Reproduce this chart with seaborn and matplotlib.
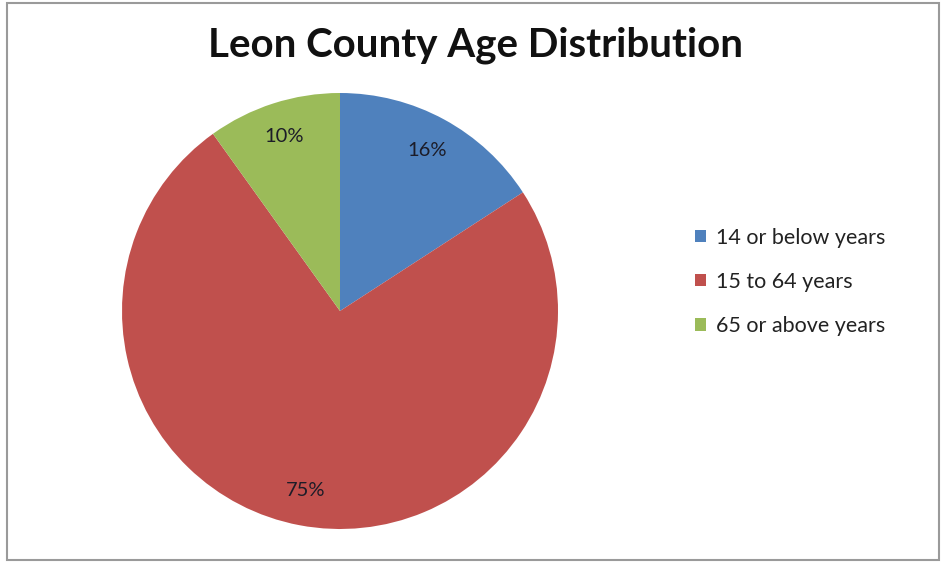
import matplotlib
matplotlib.use("Agg")
import matplotlib.pyplot as plt
import seaborn as sns
from matplotlib.patches import Rectangle

categories = ["14 or below years", "15 to 64 years", "65 or above years"]
shares = [16, 75, 10]
colors = ["#4F81BD", "#C0504D", "#9BBB59"]
title = "Leon County Age Distribution"

sns.set_theme(style="white")
plt.rcParams["font.family"] = ["Lato", "DejaVu Sans"]

W, H = 941, 562
fig = plt.figure(figsize=(W / 100, H / 100), dpi=100)
fig.patch.set_facecolor("white")

# chart frame
fig.add_artist(Rectangle((7 / W, 2 / H), (W - 9) / W, (H - 5) / H,
                         transform=fig.transFigure, fill=False,
                         edgecolor="#9a9a9a", linewidth=1.5))

cx, cy, r = 340, 311, 218
ax = fig.add_axes([(cx - r) / W, (H - cy - r) / H, 2 * r / W, 2 * r / H])
wedges, texts, autotexts = ax.pie(
    shares, colors=colors, startangle=90, counterclock=False,
    autopct=lambda p: f"{p:.0f}%", pctdistance=0.84,
    wedgeprops=dict(linewidth=0),
    textprops=dict(fontsize=14.5, color="#1c1c28"),
)
for t, v in zip(autotexts, shares):
    t.set_text(f"{v}%")
ax.set_aspect("equal")
ax.set_xlim(-1, 1)
ax.set_ylim(-1, 1)
ax.axis("off")

fig.text(475 / W, 1 - 57 / H, title, ha="center", va="baseline",
         fontsize=29, fontweight="bold", color="#111111")

leg = fig.legend(wedges, categories, loc="center left",
                 bbox_to_anchor=(676 / W, 1 - 282 / H), frameon=False,
                 fontsize=15.5, handlelength=0.5, handleheight=0.5,
                 handletextpad=0.45, labelspacing=1.12)
for t in leg.get_texts():
    t.set_color("#222222")

fig.savefig("out.png", dpi=100, facecolor="white")
